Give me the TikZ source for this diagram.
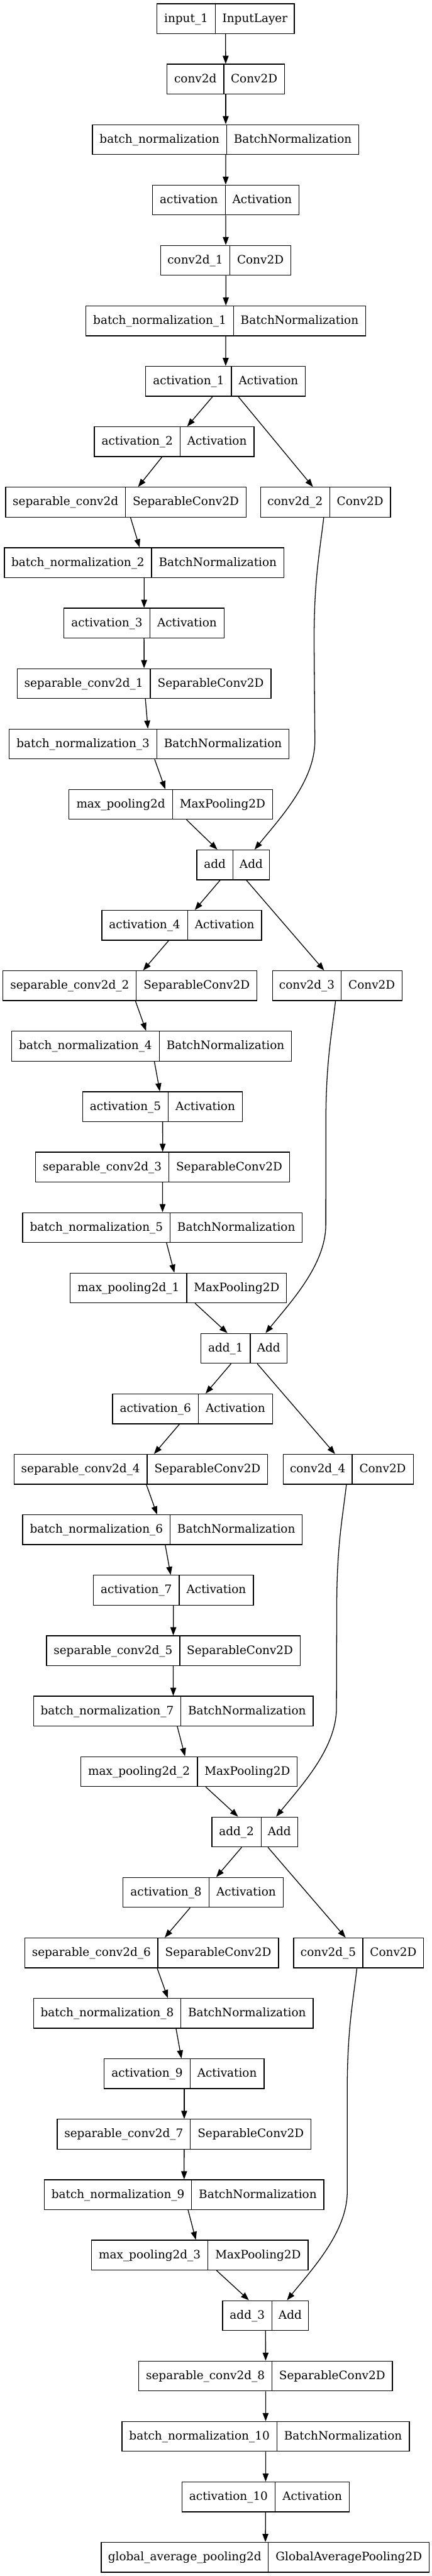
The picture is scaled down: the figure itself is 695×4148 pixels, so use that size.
\documentclass[tikz,border=0pt]{standalone}
\usepackage{fontspec}
\setmainfont{DejaVu Serif}
\usetikzlibrary{arrows.meta,calc}
\tikzset{
  recbox/.style={draw=black, line width=1.3pt, rectangle, minimum height=48pt, inner sep=0pt},
  divider/.style={draw=black, line width=1.3pt},
  lbl/.style={anchor=base, inner sep=0pt, font=\fontsize{18.67pt}{22pt}\selectfont},
  conn/.style={draw=black, line width=1.3pt, -{Triangle[length=13pt,width=9.5pt]}},
}
\newcommand\layerbox[7]{%
  \pgfmathsetmacro\lyc{6+(#2-1)*97.33+24}%
  \pgfmathsetmacro\lxc{(#3+#5)/2}%
  \pgfmathsetmacro\lw{#5-#3}%
  \pgfmathsetmacro\lxa{(#3+#4)/2}%
  \pgfmathsetmacro\lxb{(#4+#5)/2}%
  \node[recbox, minimum width=\lw pt] (#1) at (\lxc,\lyc) {};
  \draw[divider] (#4,\lyc-24) -- (#4,\lyc+24);
  \node[lbl] (#1-n) at (\lxa,\lyc+5.5) {#6};
  \node[lbl] (#1-t) at (\lxb,\lyc+5.5) {#7};
}
\newcommand\skipedge[2]{%
  \draw[conn] (#1) .. controls ($(#1.south)+(-10,60)$) and ($(#1.south)+(-18.5,100)$) .. ($(#1.south)+(-18.5,200)$)
    -- ($(#2.north)+(131.6,-175)$) .. controls ($(#2.north)+(131.6,-110)$) and ($(#2.north)+(75,-50)$) .. ([xshift=34.5pt]#2.north);
}
\begin{document}
\begin{tikzpicture}[x=1pt,y=-1pt]
\fill[white] (0,0) rectangle (695,4148);
\useasboundingbox (0,0) rectangle (695,4148);

\layerbox{in}{1}{252.6}{347}{474}{input\_1}{InputLayer}
\layerbox{c0}{2}{269}{360.4}{458}{conv2d}{Conv2D}
\layerbox{bn0}{3}{149}{365}{578}{batch\_normalization}{BatchNormalization}
\layerbox{a0}{4}{245.4}{363}{481.5}{activation}{Activation}
\layerbox{c1}{5}{258.8}{370}{468.6}{conv2d\_1}{Conv2D}
\layerbox{bn1}{6}{138.5}{376}{589}{batch\_normalization\_1}{BatchNormalization}
\layerbox{a1}{7}{234.7}{372.8}{492}{activation\_1}{Activation}
\layerbox{a2}{8}{152}{290}{409}{activation\_2}{Activation}
\layerbox{s0}{9}{9}{202}{396.4}{separable\_conv2d}{SeparableConv2D}
\layerbox{c2}{9}{419.6}{531}{629}{conv2d\_2}{Conv2D}
\layerbox{bn2}{10}{7}{244}{457.5}{batch\_normalization\_2}{BatchNormalization}
\layerbox{a3}{11}{103}{241.4}{361}{activation\_3}{Activation}
\layerbox{s1}{12}{27.6}{242}{436.5}{separable\_conv2d\_1}{SeparableConv2D}
\layerbox{bn3}{13}{15}{252.6}{465.5}{batch\_normalization\_3}{BatchNormalization}
\layerbox{mp0}{14}{111}{278}{438.7}{max\_pooling2d}{MaxPooling2D}
\layerbox{ad0}{15}{317}{375}{434}{add}{Add}
\layerbox{a4}{16}{164}{302}{421.4}{activation\_4}{Activation}
\layerbox{s2}{17}{4.9}{219.6}{413.8}{separable\_conv2d\_2}{SeparableConv2D}
\layerbox{c3}{17}{438.8}{549.7}{647.7}{conv2d\_3}{Conv2D}
\layerbox{bn4}{18}{18.7}{256.6}{469.5}{batch\_normalization\_4}{BatchNormalization}
\layerbox{a5}{19}{133.2}{270.8}{390.6}{activation\_5}{Activation}
\layerbox{s3}{20}{57.5}{271.7}{466.4}{separable\_conv2d\_3}{SeparableConv2D}
\layerbox{bn5}{21}{36.5}{274}{486.9}{batch\_normalization\_5}{BatchNormalization}
\layerbox{mp1}{22}{113.1}{300.7}{461.5}{max\_pooling2d\_1}{MaxPooling2D}
\layerbox{ad1}{23}{323.8}{403.1}{462.4}{add\_1}{Add}
\layerbox{a6}{24}{181.3}{319.4}{438.8}{activation\_6}{Activation}
\layerbox{s4}{25}{22.7}{237}{431.2}{separable\_conv2d\_4}{SeparableConv2D}
\layerbox{c4}{25}{456.1}{567}{665.5}{conv2d\_4}{Conv2D}
\layerbox{bn6}{26}{36.5}{274}{486.9}{batch\_normalization\_6}{BatchNormalization}
\layerbox{a7}{27}{150.6}{288.6}{408}{activation\_7}{Activation}
\layerbox{s5}{28}{74.8}{289.5}{483.3}{separable\_conv2d\_5}{SeparableConv2D}
\layerbox{bn7}{29}{53.9}{291.3}{504.2}{batch\_normalization\_7}{BatchNormalization}
\layerbox{mp2}{30}{130}{318}{478.8}{max\_pooling2d\_2}{MaxPooling2D}
\layerbox{ad2}{31}{341.2}{420.5}{479.3}{add\_2}{Add}
\layerbox{a8}{32}{198.2}{336.7}{456.1}{activation\_8}{Activation}
\layerbox{s6}{33}{40}{254.3}{448.6}{separable\_conv2d\_6}{SeparableConv2D}
\layerbox{c5}{33}{473}{584.4}{682.4}{conv2d\_5}{Conv2D}
\layerbox{bn8}{34}{53.9}{291.3}{504.2}{batch\_normalization\_8}{BatchNormalization}
\layerbox{a9}{35}{167.9}{306}{425.4}{activation\_9}{Activation}
\layerbox{s7}{36}{92.2}{306.5}{501.1}{separable\_conv2d\_7}{SeparableConv2D}
\layerbox{bn9}{37}{71.3}{308.7}{521.6}{batch\_normalization\_9}{BatchNormalization}
\layerbox{mp3}{38}{147.4}{335}{496.2}{max\_pooling2d\_3}{MaxPooling2D}
\layerbox{ad3}{39}{358.6}{437.9}{496.7}{add\_3}{Add}
\layerbox{s8}{40}{223.6}{437.9}{632}{separable\_conv2d\_8}{SeparableConv2D}
\layerbox{bn10}{41}{196.4}{445.9}{659.2}{batch\_normalization\_10}{BatchNormalization}
\layerbox{a10}{42}{293}{443.2}{562.6}{activation\_10}{Activation}
\layerbox{gap}{43}{163}{432}{691.5}{global\_average\_pooling2d}{GlobalAveragePooling2D}

% straight connectors
\foreach \p/\q in {in/c0, c0/bn0, bn0/a0, a0/c1, c1/bn1, bn1/a1, a1/a2, a1/c2,
  a2/s0, s0/bn2, bn2/a3, a3/s1, s1/bn3, bn3/mp0, mp0/ad0,
  ad0/a4, ad0/c3, a4/s2, s2/bn4, bn4/a5, a5/s3, s3/bn5, bn5/mp1, mp1/ad1,
  ad1/a6, ad1/c4, a6/s4, s4/bn6, bn6/a7, a7/s5, s5/bn7, bn7/mp2, mp2/ad2,
  ad2/a8, ad2/c5, a8/s6, s6/bn8, bn8/a9, a9/s7, s7/bn9, bn9/mp3, mp3/ad3,
  ad3/s8, s8/bn10, bn10/a10, a10/gap}
  {\draw[conn] (\p) -- (\q);}

% skip connectors
\skipedge{c2}{ad0}
\skipedge{c3}{ad1}
\skipedge{c4}{ad2}
\skipedge{c5}{ad3}
\end{tikzpicture}
\end{document}
